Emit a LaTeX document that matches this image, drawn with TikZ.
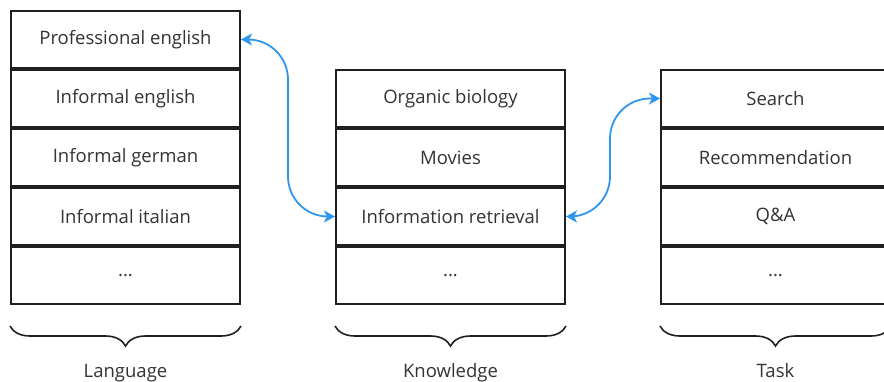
\documentclass[tikz,border=0pt]{standalone}
\usepackage{fontspec}
\setmainfont{Open Sans}
\usetikzlibrary{arrows.meta,decorations.pathreplacing}
\definecolor{edgec}{HTML}{1F1F1F}
\definecolor{txtc}{HTML}{333333}
\definecolor{linkc}{HTML}{2E96EC}
\begin{document}
\begin{tikzpicture}[x=1pt,y=1pt,
  cell/.style={draw=edgec, line width=1.6pt, minimum width=229.4pt, minimum height=57.4pt,
    inner sep=0pt, text=txtc, fill=white, font=\fontsize{18.5}{21}\selectfont},
  link/.style={draw=linkc, line width=1.8pt, rounded corners=40pt,
    {Stealth[length=11pt,width=12pt,inset=3pt]}-{Stealth[length=11pt,width=12pt,inset=3pt]}},
  brc/.style={draw=edgec, line width=1.6pt, decorate, decoration={brace, amplitude=20pt}},
  grouplabel/.style={text=txtc, anchor=base, font=\fontsize{18.5}{21}\selectfont}]
\useasboundingbox (0,0) rectangle (884,381);
% Language column
\node[cell] (L1) at (125.5,341.5) {Professional english};
\node[cell] (L2) at (125.5,282.5) {Informal english};
\node[cell] (L3) at (125.5,223.5) {Informal german};
\node[cell] (L4) at (125.5,164.5) {Informal italian};
\node[cell] (L5) at (125.5,105.5) {...};
% Knowledge column
\node[cell] (M1) at (450.5,282.5) {Organic biology};
\node[cell] (M2) at (450.5,223.5) {Movies};
\node[cell] (M3) at (450.5,164.5) {Information retrieval};
\node[cell] (M4) at (450.5,105.5) {...};
% Task column
\node[cell] (T1) at (775.5,282.5) {Search};
\node[cell] (T2) at (775.5,223.5) {Recommendation};
\node[cell] (T3) at (775.5,164.5) {Q\&A};
\node[cell] (T4) at (775.5,105.5) {...};
% braces
\draw[brc] ([yshift=-21pt]L5.south east) -- ([yshift=-21pt]L5.south west);
\draw[brc] ([yshift=-21pt]M4.south east) -- ([yshift=-21pt]M4.south west);
\draw[brc] ([yshift=-21pt]T4.south east) -- ([yshift=-21pt]T4.south west);
\node[grouplabel] (capL) at (125.5,4) {Language};
\node[grouplabel] (capM) at (450.5,4) {Knowledge};
\node[grouplabel] (capT) at (775.5,4) {Task};
% links
\draw[link] (L1.east) -- ++(47pt,0) |- (M3.west);
\draw[link] (M3.east) -- ++(44pt,0) |- (T1.west);
\end{tikzpicture}
\end{document}
